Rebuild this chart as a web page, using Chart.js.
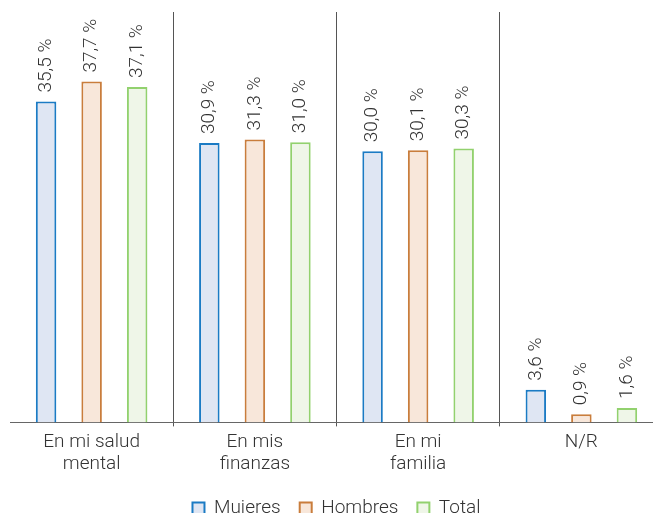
<!DOCTYPE html>
<html>
<head>
<meta charset="utf-8">
<script src="https://cdn.jsdelivr.net/npm/chart.js"></script>
<style>
  html, body { margin: 0; padding: 0; background: #fff; overflow: hidden; }
  #wrap { width: 663px; height: 513px; }
</style>
</head>
<body>
<div id="wrap"><canvas id="myBarChart"></canvas></div>
<script>
    // categories and series
    const categories = [['En mi salud', 'mental'], ['En mis', 'finanzas'], ['En mi', 'familia'], 'N/R'];
    const mujeres = [35.5, 30.9, 30.0, 3.6];
    const hombres = [37.7, 31.3, 30.1, 0.9];
    const total = [37.1, 31.0, 30.3, 1.6];

    const textColor = '#333333';

    // rotated value labels above each bar
    const valueLabels = {
        id: 'valueLabels',
        afterDatasetsDraw(chart) {
            const ctx = chart.ctx;
            ctx.save();
            ctx.font = '300 19px Roboto';
            ctx.fillStyle = textColor;
            ctx.textAlign = 'left';
            ctx.textBaseline = 'middle';
            chart.data.datasets.forEach((ds, i) => {
                chart.getDatasetMeta(i).data.forEach((bar, j) => {
                    const txt = ds.data[j].toFixed(1).replace('.', ',') + ' %';
                    ctx.save();
                    ctx.translate(bar.x, bar.y - 9);
                    ctx.rotate(-Math.PI / 2);
                    ctx.fillText(txt, 0, 0);
                    ctx.restore();
                });
            });
            ctx.restore();
        }
    };

    const ctx = document.getElementById('myBarChart').getContext('2d');
    new Chart(ctx, {
        type: 'bar',
        data: {
            labels: categories,
            datasets: [
                { label: 'Mujeres', data: mujeres, backgroundColor: '#dfe6f3', borderColor: '#1b7bc4', borderWidth: 2 },
                { label: 'Hombres', data: hombres, backgroundColor: '#f8e7da', borderColor: '#c97d3c', borderWidth: 2 },
                { label: 'Total', data: total, backgroundColor: '#eff6e8', borderColor: '#92d16e', borderWidth: 2 }
            ]
        },
        options: {
            responsive: true,
            maintainAspectRatio: false,
            animation: false,
            categoryPercentage: 0.837,
            barPercentage: 0.45,
            layout: { padding: { left: 10, top: 12, right: 0, bottom: -15 } },
            plugins: {
                legend: {
                    position: 'bottom',
                    labels: {
                        boxWidth: 12,
                        boxHeight: 12,
                        color: textColor,
                        font: { family: 'Roboto', size: 19, weight: '300' },
                        padding: 19
                    }
                },
                tooltip: { enabled: false }
            },
            scales: {
                x: {
                    grid: {
                        offset: true,
                        color: c => c.index === 0 ? 'rgba(0,0,0,0)' : '#555555',
                        tickLength: 4
                    },
                    border: { color: '#666666', width: 1 },
                    ticks: {
                        color: textColor,
                        font: { family: 'Roboto', size: 19, weight: '300', lineHeight: 1.2 },
                        maxRotation: 0,
                        padding: 4
                    }
                },
                y: {
                    display: false,
                    min: 0,
                    max: 45.4
                }
            }
        },
        plugins: [valueLabels]
    });
</script>
</body>
</html>
